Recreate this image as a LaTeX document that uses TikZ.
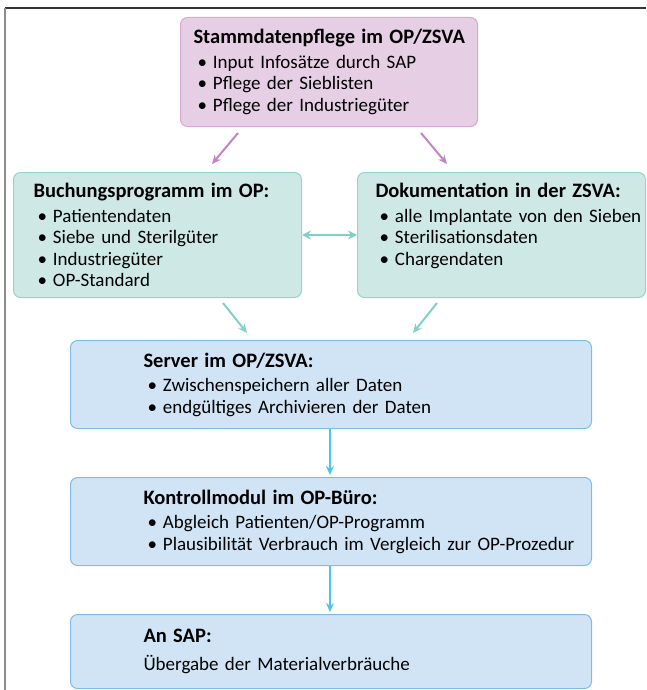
\documentclass[tikz,border=0pt]{standalone}
\usepackage{fontspec}
\setmainfont{Carlito}
\usetikzlibrary{positioning, arrows.meta, calc}

\definecolor{pinkfill}{HTML}{E6CEE4}
\definecolor{pinkline}{HTML}{D7A9D3}
\definecolor{pinkarrow}{HTML}{C384C2}
\definecolor{tealfill}{HTML}{CEE9E5}
\definecolor{tealline}{HTML}{92D5CB}
\definecolor{tealarrow}{HTML}{7ED2C6}
\definecolor{bluefill}{HTML}{D0E4F5}
\definecolor{blueline}{HTML}{7FBDE9}
\definecolor{bluearrow}{HTML}{4EC3F0}

\newcommand{\boxfont}{\fontsize{19}{21.5}\selectfont\spaceskip=3.3pt\relax}
\newcommand{\itm}[1]{\mbox{\hspace*{4pt}\textbullet\hspace{6pt}#1}}
\newcommand{\boxtitle}[1]{\mbox{\fontsize{20.5}{21.5}\selectfont\bfseries #1}}

\tikzset{
  box/.style={draw, rounded corners=7pt, line width=1pt, anchor=north west,
    align=left, inner ysep=0pt, font=\boxfont},
  pinkbox/.style={box, fill=pinkfill, draw=pinkline},
  tealbox/.style={box, fill=tealfill, draw=tealline},
  bluebox/.style={box, fill=bluefill, draw=blueline},
  flow/.style={line width=2pt, -{Stealth[length=9pt,width=8pt]}},
}

\begin{document}
\begin{tikzpicture}[x=1pt, y=-1pt]
\useasboundingbox (0,0) rectangle (646,690);
% frame
\draw[line width=1.5pt, black!80] (5,8) -- (646,8);
\draw[line width=1.5pt, black!45] (5,8) -- (5,690);

% boxes
\node[pinkbox, minimum width=297pt, minimum height=109pt, inner xsep=13pt, text width=271pt] (stamm) at (180,17)
  {\boxtitle{Stammdatenpflege im OP/ZSVA}\\[3pt]
   \itm{Input Infosätze durch SAP}\\
   \itm{Pflege der Sieblisten}\\
   \itm{Pflege der Industriegüter}};

\node[tealbox, minimum width=288pt, minimum height=125pt, inner xsep=20pt, text width=248pt] (buch) at (13,172)
  {\boxtitle{Buchungsprogramm im OP:}\\[3pt]
   \itm{Patientendaten}\\
   \itm{Siebe und Sterilgüter}\\
   \itm{Industriegüter}\\
   \itm{OP-Standard}};

\node[tealbox, minimum width=288pt, minimum height=125pt, inner xsep=18pt, text width=252pt] (doku) at (357,172)
  {\boxtitle{Dokumentation in der ZSVA:}\\[3pt]
   \itm{alle Implantate von den Sieben}\\
   \itm{Sterilisationsdaten}\\
   \itm{Chargendaten}\\
   \mbox{}};

\node[bluebox, minimum width=521pt, minimum height=88pt, inner xsep=73pt, text width=375pt] (server) at (70,340)
  {\boxtitle{Server im OP/ZSVA:}\\[3pt]
   \itm{Zwischenspeichern aller Daten}\\
   \itm{endgültiges Archivieren der Daten}};

\node[bluebox, minimum width=521pt, minimum height=88pt, inner xsep=73pt, text width=375pt] (kontr) at (70,477)
  {\boxtitle{Kontrollmodul im OP-Büro:}\\[3pt]
   \itm{Abgleich Patienten/OP-Programm}\\
   \itm{Plausibilität Verbrauch im Vergleich zur OP-Prozedur}};

\node[bluebox, minimum width=521pt, minimum height=74pt, inner xsep=73pt, text width=375pt] (sap) at (70,614)
  {\boxtitle{An SAP:}\\[6pt]
   \mbox{Übergabe der Materialverbräuche}};

% arrows
\draw[flow, pinkarrow] ([xshift=58pt, yshift=-6pt]stamm.south west) -- ([xshift=199pt, yshift=8pt]buch.north west);
\draw[flow, pinkarrow] ([xshift=-57pt, yshift=-6pt]stamm.south east) -- ([xshift=-199pt, yshift=8pt]doku.north east);
\draw[line width=2pt, tealarrow, {Stealth[length=9pt,width=9pt]}-{Stealth[length=9pt,width=9pt]}] (buch.east) -- (doku.west);
\draw[flow, tealarrow] ([xshift=-79pt, yshift=-5pt]buch.south east) -- ([xshift=177pt, yshift=7pt]server.north west);
\draw[flow, tealarrow] ([xshift=80pt, yshift=-5pt]doku.south west) -- ([xshift=-179pt, yshift=7pt]server.north east);
\draw[flow, bluearrow] (server.south -| 330,0) -- ([yshift=2pt]kontr.north -| 330,0);
\draw[flow, bluearrow] (kontr.south -| 330,0) -- ([yshift=2pt]sap.north -| 330,0);
\end{tikzpicture}
\end{document}
